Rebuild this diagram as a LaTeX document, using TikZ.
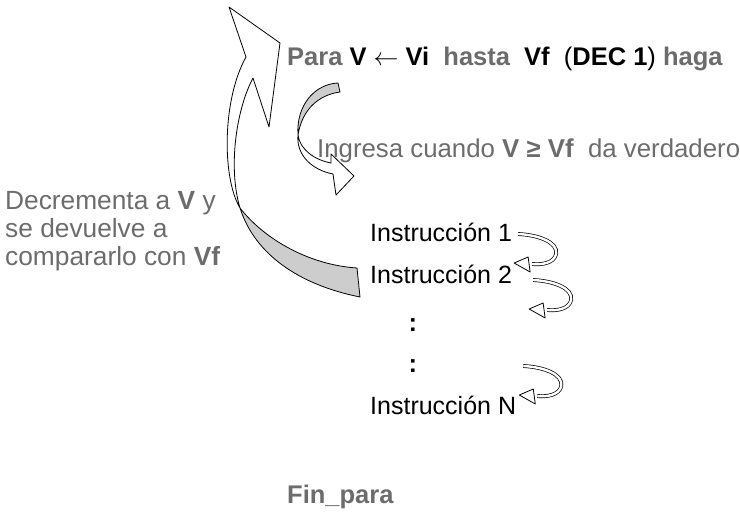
\documentclass[tikz,border=0pt]{standalone}
\usepackage{fontspec}
\setmainfont{Liberation Sans}
\usepackage{tikz}
\definecolor{gristxt}{RGB}{108,108,108}
\definecolor{grisfondo}{RGB}{205,205,205}

\begin{document}
\begin{tikzpicture}[x=1pt, y=-1pt,
			texto/.style={anchor=base west, inner sep=0pt, font=\fontsize{25}{28}\selectfont},
			titulo/.style={texto, font=\bfseries\fontsize{25.5}{28}\selectfont},
			cinta/.style={draw=black, line width=0.8pt, line join=round},
			bucle/.pic={
				\draw[line width=0.7pt, double=white, double distance=2.4pt] (0,0) .. controls (20,1) and (40,8) .. (38,20) .. controls (36,29) and (24,31) .. (14,30);
				\draw[cinta, fill=white] (10,23) -- (-4,29) -- (12,38) -- cycle;
			}
			]
			\useasboundingbox (0,0) rectangle (740,513);
			
			% Encabezado del ciclo
			\node[titulo] (para) at (287,65.5) {{\color{gristxt}Para} V {\mdseries$\leftarrow$} Vi\ \ {\color{gristxt}hasta}\ \ Vf\ \ {\mdseries(}DEC 1{\mdseries)} {\color{gristxt}haga}};
			\node[texto, text=gristxt, font=\fontsize{25.8}{28}\selectfont] (ingresa) at (317,158) {Ingresa cuando \textbf{V ≥ Vf}\ \ da verdadero};
			\node[texto, text=gristxt, font=\fontsize{26.3}{28}\selectfont, align=left, anchor=north west] (decrementa) at (5,191) {Decrementa a \textbf{V} y\\se devuelve a\\compararlo con \textbf{Vf}};
			
			% Cuerpo del ciclo
			\node[texto] (ins1) at (370,242) {Instrucción 1};
			\node[texto] (ins2) at (370,284) {Instrucción 2};
			\node[titulo] (pt1) at (408.5,332) {:};
			\node[titulo] (pt2) at (408.5,373) {:};
			\node[texto] (insN) at (370,415) {Instrucción N};
			\node[titulo, text=gristxt] (fin) at (287,503) {Fin\_para};
			
			% Flecha grande: vuelve a comparar
			\draw[cinta, fill=grisfondo] (240,208) .. controls (265,240) and (310,265) .. (357,268) -- (360,297) .. controls (300,285) and (255,255) .. (240,208) -- cycle;
			\draw[cinta, fill=white] (229,7) -- (280,43) -- (269,127) -- (253,78) .. controls (236,110) and (228,168) .. (240,208) .. controls (222,178) and (222,100) .. (246,57) -- cycle;
			
			% Flecha chica: entra al ciclo
			\draw[cinta, fill=grisfondo] (338,83) .. controls (315,84) and (296,105) .. (298,135) .. controls (302,110) and (318,95) .. (340,92) -- cycle;
			\draw[cinta, fill=white] (298,135) .. controls (300,150) and (315,160) .. (331,163) -- (331,154) -- (354,176) -- (336,195) -- (333,174) .. controls (312,170) and (296,155) .. (298,135) -- cycle;
			
			% Paso de una instruccion a la siguiente
			\coordinate (g1) at ([xshift=6pt, yshift=8pt]ins1.base east);
			\coordinate (g2) at ([xshift=21pt, yshift=4pt]ins2.base east);
			\coordinate (gN) at ([xshift=7pt, yshift=49pt]insN.base east);
			\pic at (g1) {bucle};
			\pic at (g2) {bucle};
			\pic at (gN) {bucle};
			
		\end{tikzpicture}
\end{document}
